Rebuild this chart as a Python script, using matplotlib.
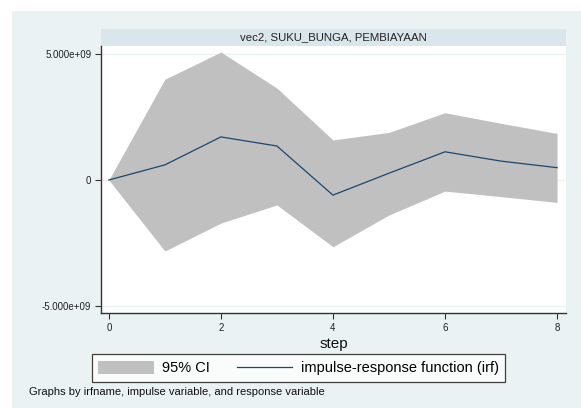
import matplotlib.pyplot as plt
from matplotlib.patches import Rectangle

# impulse-response of PEMBIAYAAN to a SUKU_BUNGA shock (vec2)
steps = [0, 1, 2, 3, 4, 5, 6, 7, 8]
irf = [0.0, 0.60e9, 1.71e9, 1.35e9, -0.60e9, 0.27e9, 1.12e9, 0.75e9, 0.49e9]
ci_upper = [0.0, 4.00e9, 5.08e9, 3.65e9, 1.59e9, 1.89e9, 2.67e9, 2.25e9, 1.85e9]
ci_lower = [0.0, -2.82e9, -1.71e9, -0.99e9, -2.65e9, -1.39e9, -0.44e9, -0.66e9, -0.89e9]

y_ticks = [-5e9, 0, 5e9]
y_tick_labels = ['-5.000e+09', '0', '5.000e+09']
x_ticks = [0, 2, 4, 6, 8]

BG = '#EAF2F3'
STRIP = '#D9E6EB'
BAND = '#C0C0C0'
LINE = '#1A476F'

plt.rcParams['font.family'] = ['Liberation Sans', 'DejaVu Sans']

W, H = 581, 408
fig = plt.figure(figsize=(W / 100, H / 100), dpi=100)
fig.patch.set_facecolor('white')

# outer graph region
fig.patches.append(Rectangle((12 / W, 0), 1 - 12 / W, 1 - 11 / H,
                             transform=fig.transFigure, facecolor=BG,
                             edgecolor='none', zorder=0))
# subtitle strip
fig.patches.append(Rectangle((101 / W, 1 - 46 / H), 465 / W, 17 / H,
                             transform=fig.transFigure, facecolor=STRIP,
                             edgecolor='none', zorder=1))
fig.text(333.5 / W, 1 - 37.5 / H, 'vec2, SUKU_BUNGA, PEMBIAYAAN',
         ha='center', va='center', fontsize=8.2, color='#222222')

ax = fig.add_axes([101 / W, 1 - 313 / H, 465 / W, 267 / H])
ax.set_zorder(3)
ax.set_facecolor('white')

ax.fill_between(steps, ci_lower, ci_upper, color=BAND, linewidth=0, zorder=2)
ax.plot(steps, irf, color=LINE, linewidth=0.9, zorder=3)

ax.set_xlim(-0.14, 8.16)
ax.set_ylim(-5.28e9, 5.32e9)

ax.set_yticks(y_ticks)
ax.set_yticklabels(y_tick_labels)
ax.set_xticks(x_ticks)
ax.grid(axis='y', color=BG, linewidth=1.0, zorder=1)
ax.set_axisbelow(True)

for side in ['top', 'right']:
    ax.spines[side].set_visible(False)
for side in ['left', 'bottom']:
    ax.spines[side].set_color('#333333')
    ax.spines[side].set_linewidth(1.0)

ax.tick_params(axis='both', direction='out', length=4, width=0.8,
               color='#333333', labelsize=7, labelcolor='#222222', pad=3)

ax.set_xlabel('step', fontsize=11, labelpad=3, color='#111111')

handles = [Rectangle((0, 0), 1, 1, facecolor=BAND, edgecolor='none'),
           plt.Line2D([], [], color=LINE, linewidth=0.9)]
leg = fig.legend(handles, ['95% CI', 'impulse-response function (irf)'],
                 loc='center', bbox_to_anchor=(298.5 / W, 1 - 368 / H),
                 ncol=2, fontsize=10.5, frameon=True, fancybox=False,
                 handlelength=3.8, handleheight=1.05, columnspacing=1.8,
                 borderpad=0.45, handletextpad=0.6, borderaxespad=0)
leg.set_zorder(5)
leg.get_frame().set_edgecolor('#111111')
leg.get_frame().set_linewidth(0.9)
leg.get_frame().set_facecolor('white')

fig.text(29 / W, 1 - 392 / H,
         'Graphs by irfname, impulse variable, and response variable',
         ha='left', va='center', fontsize=8.0, color='#111111')

fig.savefig('out.png', dpi=100, facecolor=fig.get_facecolor())
